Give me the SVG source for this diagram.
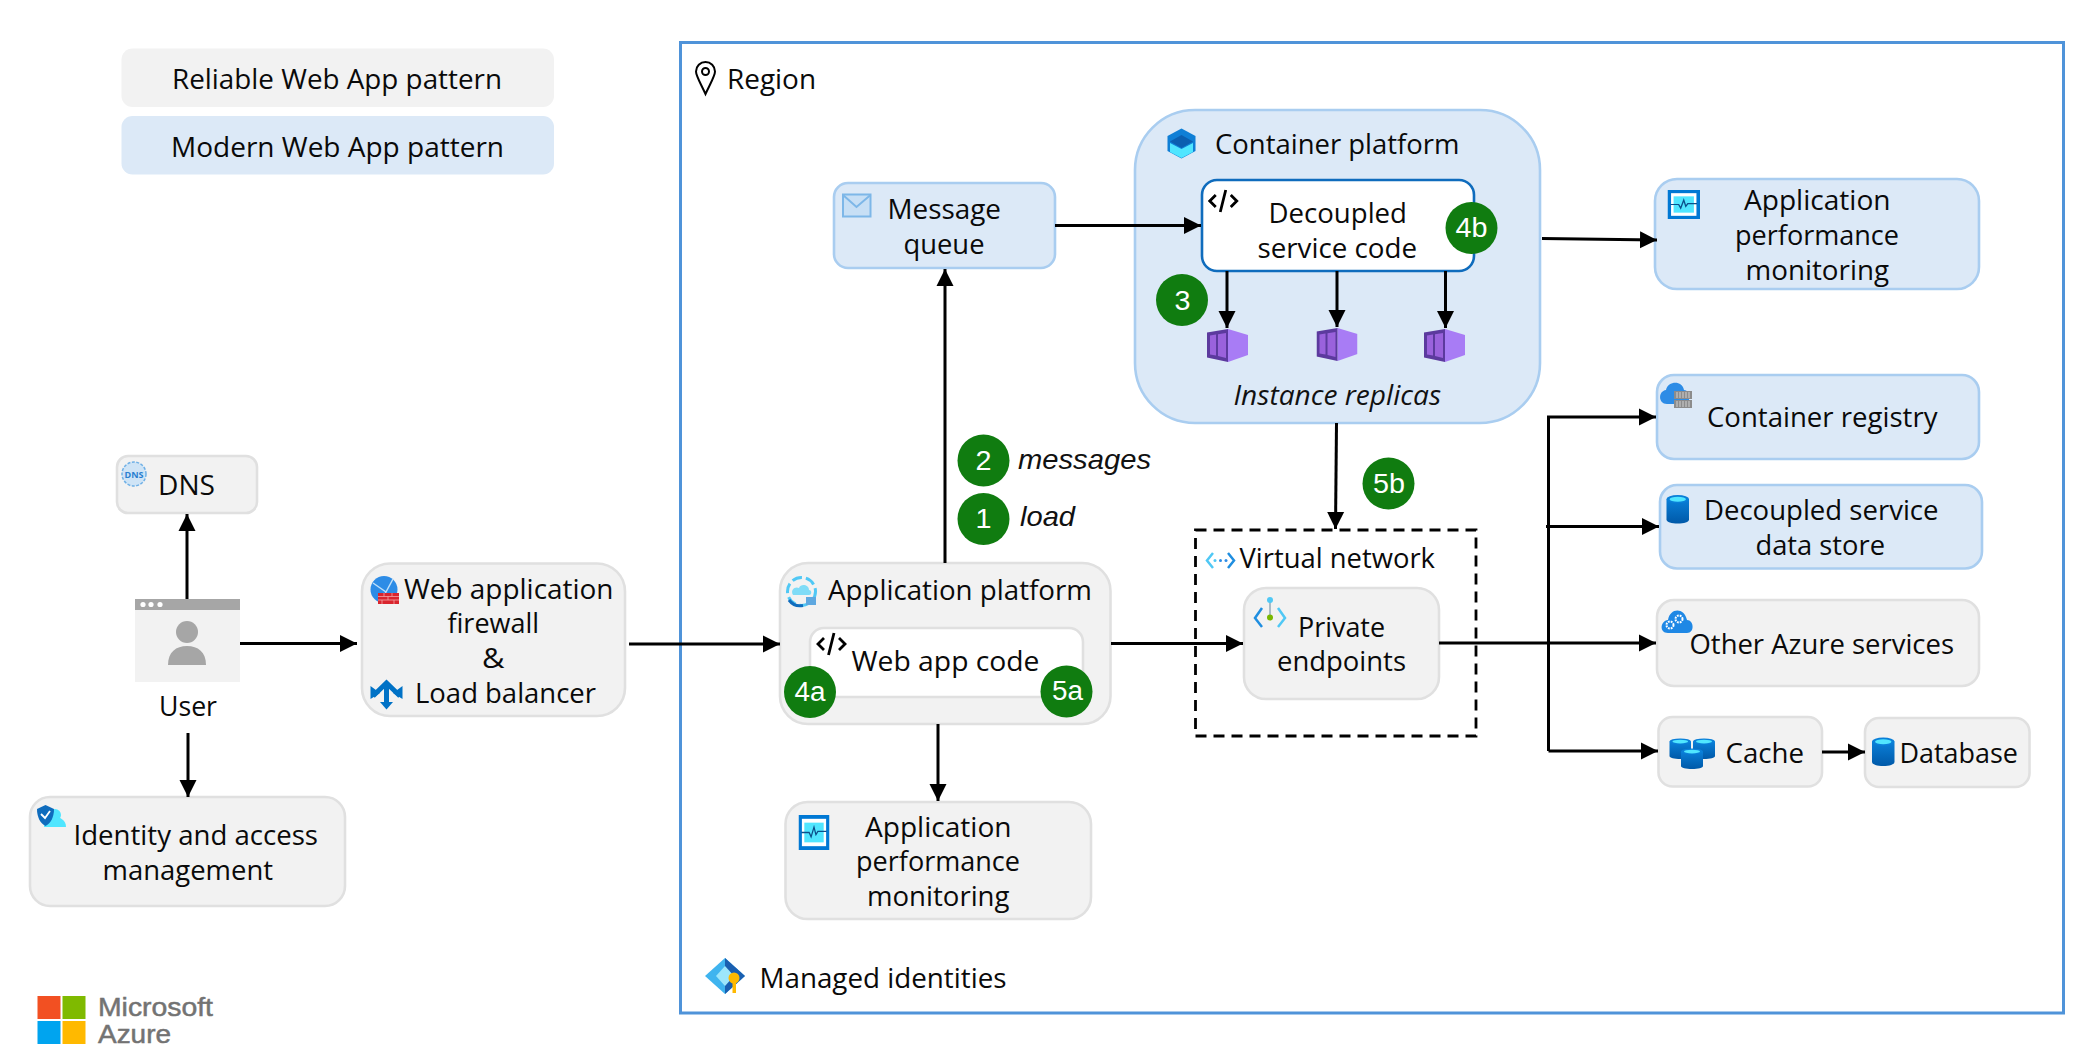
<svg xmlns="http://www.w3.org/2000/svg" width="2098" height="1057" viewBox="0 0 2098 1057">
<style>
text{font-family:"Open Sans","Noto Sans","Liberation Sans",sans-serif;font-size:28px;fill:#0a0a0a}
.g{fill:#f2f2f2;stroke:#e0e0e0;stroke-width:2.6}
.b{fill:#dce9f7;stroke:#a9cdf0;stroke-width:2.6}
.c{fill:none;stroke:#000;stroke-width:3}
.bg{fill:#107c10}
.bt{font-family:"Liberation Sans",Arial,sans-serif;font-size:27px;fill:#fff}
.it{font-family:"Liberation Sans",Arial,sans-serif;font-style:italic;font-size:28px;fill:#111}
.ir{font-family:"Open Sans","Noto Sans",sans-serif;font-style:italic;font-size:28px;fill:#111}
.lg{font-family:"Liberation Sans",Arial,sans-serif;font-size:26px;fill:#737373;stroke:#737373;stroke-width:.5}
.code{fill:none;stroke:#000;stroke-width:2.8}
</style>
<defs>
<marker id="ah" markerUnits="userSpaceOnUse" markerWidth="18" markerHeight="18" refX="17" refY="9" orient="auto"><path d="M0 0.5L17 9L0 17.5Z" fill="#000"/></marker>
<linearGradient id="cy" x1="0" x2="0" y1="0" y2="1"><stop offset="0" stop-color="#0a7fd8"/><stop offset="1" stop-color="#0059a8"/></linearGradient>
<symbol id="cyl" viewBox="0 0 22 28" preserveAspectRatio="none" overflow="visible"><path d="M0 4V24C0 26.500 5 28 11 28S22 26.500 22 24V4Z" fill="url(#cy)"/><ellipse cx="11" cy="4" rx="11" ry="4" fill="#0a7fd8"/><ellipse cx="11" cy="4.200" rx="8" ry="2.500" fill="#50e6ff"/></symbol>
<symbol id="cube" viewBox="0 0 41 33"><path d="M21 0L41 6V26L21 33Z" fill="#a87cf5"/><path d="M0 3.500L21 0V33L0 28.500Z" fill="#5c3a9e"/><path d="M3 6.500L9 5.600V26.500L3 25.500ZM11 5.300L19 4V29L11 27Z" fill="#9a62dc"/></symbol>
<symbol id="codei" viewBox="0 0 31 24"><path class="code" d="M8 6L2 12L8 18M23 6L29 12L23 18M18 1L12.500 23"/></symbol>
<symbol id="apm" viewBox="0 0 32 32" preserveAspectRatio="none"><rect width="32" height="32" fill="#0078d4"/><rect x="3.500" y="3.500" width="25" height="25" fill="#fff"/><rect x="6" y="7" width="20" height="18" fill="#50e6ff"/><path d="M3 16H11L13 20L16 11L18 18L20 15H29" fill="none" stroke="#0b4f8a" stroke-width="1.300"/></symbol>
</defs>

<rect width="2098" height="1057" fill="#fff"/>

<g id="legend-reliable"><rect x="121.500" y="48.500" width="432.500" height="58.500" rx="11" fill="#f2f2f2"/><text x="172" y="89" textLength="330" lengthAdjust="spacingAndGlyphs">Reliable Web App pattern</text></g>
<g id="legend-modern"><rect x="121.500" y="116" width="432.500" height="58.500" rx="11" fill="#dce9f7"/><text x="171" y="157" textLength="333" lengthAdjust="spacingAndGlyphs">Modern Web App pattern</text></g>

<g id="region"><rect x="680.500" y="42.500" width="1383" height="970.500" fill="none" stroke="#4f93d9" stroke-width="3"/>
<path d="M705.500 94C701 84 696 76 696 71.500A9.500 9.500 0 0 1 715 71.500C715 76 710 84 705.500 94Z" fill="none" stroke="#000" stroke-width="2"/><circle cx="705.500" cy="71.500" r="3.500" fill="none" stroke="#000" stroke-width="2"/>
<text x="727" y="89" textLength="89" lengthAdjust="spacingAndGlyphs">Region</text></g>

<g id="managed-identities"><path d="M725 958L745 976L725 994L705 976Z" fill="#3fb4ef"/><path d="M725 958L745 976L725 994Z" fill="#1a5fb0"/><path d="M716 976L725 966L734 976L725 986Z" fill="#9de6fb"/><circle cx="734" cy="978" r="5.500" fill="#ffb900"/><rect x="732.500" y="980" width="3.500" height="13" fill="#ffb900"/>
<text x="759.500" y="988" textLength="247" lengthAdjust="spacingAndGlyphs">Managed identities</text></g>

<g id="dns"><rect class="g" x="117" y="456" width="140" height="57" rx="11"/><circle cx="134" cy="474" r="12" fill="#cfe4f6" stroke="#6fb0e6" stroke-width="1.500" stroke-dasharray="3 1.500"/><text x="124.500" y="477.500" style="font-size:8.500px;font-weight:700;fill:#2a7fd0" textLength="19" lengthAdjust="spacingAndGlyphs">DNS</text><text x="158" y="495" textLength="57" lengthAdjust="spacingAndGlyphs">DNS</text></g>

<g id="user"><rect x="135" y="599" width="105" height="83" fill="#f2f2f2"/><rect x="135" y="599" width="105" height="11" fill="#a6a6a6"/><circle cx="143" cy="604.500" r="2.600" fill="#fff"/><circle cx="151" cy="604.500" r="2.600" fill="#fff"/><circle cx="160" cy="604.500" r="2.600" fill="#fff"/><circle cx="187" cy="632" r="11" fill="#a6a6a6"/><path d="M168 665C168 652 176 646 187 646S206 652 206 665Z" fill="#a6a6a6"/><text x="159" y="716" textLength="58" lengthAdjust="spacingAndGlyphs">User</text></g>

<g id="iam"><rect class="g" x="30" y="797" width="315" height="109" rx="20"/><circle cx="55" cy="815" r="6" fill="#50e6ff"/><path d="M44 827C44 820 50 817 55 817S66 820 66 827Z" fill="#50e6ff"/><path d="M37 809L45.500 805L54 809C54 817 51 823 45.500 826C40 823 37 817 37 809Z" fill="#0f6cbd"/><path d="M41 814L45 818L50 811" fill="none" stroke="#fff" stroke-width="1.800"/>
<text x="73.500" y="845" textLength="244.500" lengthAdjust="spacingAndGlyphs">Identity and access</text><text x="102.500" y="880" textLength="170.500" lengthAdjust="spacingAndGlyphs">management</text></g>

<g id="waf"><rect class="g" x="362" y="563.500" width="263" height="152.500" rx="28"/><circle cx="384" cy="589.500" r="13.500" fill="#2d8ce6"/><path d="M373 583L386 592L393 579M386 592L381 602" fill="none" stroke="#bfe0fa" stroke-width="1.500"/><rect x="378" y="593" width="21" height="11" fill="#d9252e"/><path d="M378 596.500H399M378 600H399M384 593V596.500M392 593V596.500M388 596.500V600M382 600V604M394 600V604" stroke="#f4a3a6" stroke-width="0.800" fill="none"/>
<text x="404" y="598.500" textLength="209.500" lengthAdjust="spacingAndGlyphs">Web application</text><text x="447.500" y="632.500" textLength="91.500" lengthAdjust="spacingAndGlyphs">firewall</text><text x="482" y="667.500" textLength="22.500" lengthAdjust="spacingAndGlyphs">&amp;</text>
<path d="M373 696L386.500 683L400 696M386.500 683V704" fill="none" stroke="#0072c6" stroke-width="5"/><path d="M370.500 686V699L380 693ZM402.500 686V699L393 693Z" fill="#0072c6"/><path d="M380 702H393L386.500 709.500Z" fill="#0072c6"/>
<text x="415" y="702.500" textLength="181" lengthAdjust="spacingAndGlyphs">Load balancer</text></g>

<g id="app-platform"><rect class="g" x="780" y="563" width="330.500" height="161" rx="28"/><circle cx="801.500" cy="591.500" r="14" fill="none" stroke="#50c8f5" stroke-width="3" stroke-dasharray="10 4"/><path d="M789 600A14 14 0 0 0 803 605.500" fill="none" stroke="#0f6cbd" stroke-width="3"/><path d="M793 595C790 590 795 586 799 588C801 583 809 585 809 590C812 590 812 595 809 595Z" fill="#7fdcf7"/><rect x="806" y="597" width="10" height="8" fill="#5ea8e0"/>
<text x="828" y="599.500" textLength="264" lengthAdjust="spacingAndGlyphs">Application platform</text>
<g id="web-app-code"><rect x="810" y="628" width="273" height="69" rx="14" fill="#fff" stroke="#e0e0e0" stroke-width="2.600"/><use href="#codei" x="816" y="632" width="31" height="24"/><text x="851.500" y="671" textLength="188" lengthAdjust="spacingAndGlyphs">Web app code</text></g></g>

<g id="apm-bottom"><rect class="g" x="785.500" y="802" width="305.500" height="117" rx="22"/><use href="#apm" x="798.500" y="815" width="31" height="35"/><text x="865" y="837" textLength="146.500" lengthAdjust="spacingAndGlyphs">Application</text><text x="856" y="871" textLength="164" lengthAdjust="spacingAndGlyphs">performance</text><text x="867" y="905.500" textLength="142.500" lengthAdjust="spacingAndGlyphs">monitoring</text></g>

<g id="message-queue"><rect class="b" x="834" y="183" width="221" height="85" rx="14"/><rect x="843" y="194.500" width="27.500" height="22" fill="#c7dff5" stroke="#7db7e8" stroke-width="2"/><path d="M843 195L856.500 207L870.500 195" fill="none" stroke="#7db7e8" stroke-width="2"/><text x="887.500" y="219" textLength="113.500" lengthAdjust="spacingAndGlyphs">Message</text><text x="903.500" y="253.500" textLength="81" lengthAdjust="spacingAndGlyphs">queue</text></g>

<g id="container-platform"><rect class="b" x="1135" y="110" width="405" height="313" rx="60"/><path d="M1181.500 128.500L1195.500 136V151L1181.500 158.500L1167.500 151V136Z" fill="#0f7fd6"/><path d="M1181.500 135L1193 141.500L1181.500 148L1170 141.500Z" fill="#0b5fb0"/><path d="M1170 143L1181.500 149V158L1170 152ZM1193 143L1181.500 149V158L1193 152Z" fill="#50e6ff"/>
<text x="1215" y="154" textLength="244.500" lengthAdjust="spacingAndGlyphs">Container platform</text>
<g id="decoupled-code"><rect x="1202" y="180" width="272" height="91" rx="15" fill="#fff" stroke="#0f6cbd" stroke-width="2.600"/><use href="#codei" x="1207.500" y="189" width="31.500" height="24"/><text x="1268.500" y="223" textLength="138.500" lengthAdjust="spacingAndGlyphs">Decoupled</text><text x="1257.500" y="257.500" textLength="159.500" lengthAdjust="spacingAndGlyphs">service code</text></g>
<use href="#cube" x="1207" y="329" width="41" height="33"/><use href="#cube" x="1316.500" y="328" width="41" height="33"/><use href="#cube" x="1424" y="329" width="41" height="33"/>
<text class="ir" x="1233.500" y="405" textLength="207.500" lengthAdjust="spacingAndGlyphs">Instance replicas</text></g>

<g id="virtual-network"><rect x="1195.500" y="530" width="280.500" height="206" fill="none" stroke="#000" stroke-width="2.800" stroke-dasharray="11 7"/><path d="M1213 553L1207 560.500L1213 568" fill="none" stroke="#50c8f5" stroke-width="2.500"/><path d="M1228 553L1234 560.500L1228 568" fill="none" stroke="#1f8ee0" stroke-width="2.500"/><circle cx="1215" cy="560.500" r="1.500" fill="#50c8f5"/><circle cx="1220.500" cy="560.500" r="1.500" fill="#2d8ce6"/><circle cx="1226" cy="560.500" r="1.500" fill="#2d8ce6"/>
<text x="1239.500" y="568" textLength="195.500" lengthAdjust="spacingAndGlyphs">Virtual network</text>
<g id="private-endpoints"><rect class="g" x="1244" y="588" width="195" height="111" rx="22"/><path d="M1262 608L1255 618L1262 627" fill="none" stroke="#1f8ee0" stroke-width="2.500"/><path d="M1278 608L1285 618L1278 627" fill="none" stroke="#50c8f5" stroke-width="2.500"/><path d="M1270 600V618" stroke="#8fa8b8" stroke-width="1.500"/><circle cx="1270" cy="600" r="3" fill="#50c8f5"/><circle cx="1270" cy="617.500" r="3" fill="#7ab800"/><text x="1298" y="636.500" textLength="87" lengthAdjust="spacingAndGlyphs">Private</text><text x="1277" y="671" textLength="129" lengthAdjust="spacingAndGlyphs">endpoints</text></g></g>

<g id="apm-top"><rect class="b" x="1655" y="179" width="324" height="110" rx="22"/><use href="#apm" x="1667.500" y="190" width="32.500" height="29"/><text x="1744" y="210" textLength="146.500" lengthAdjust="spacingAndGlyphs">Application</text><text x="1735" y="245" textLength="164" lengthAdjust="spacingAndGlyphs">performance</text><text x="1745.500" y="280" textLength="143.500" lengthAdjust="spacingAndGlyphs">monitoring</text></g>

<g id="container-registry"><rect class="b" x="1657" y="375" width="322" height="84" rx="17"/><path d="M1667 404C1658 404 1658 391 1666 390C1668 381 1682 380 1684 390C1690 390 1692 404 1684 404Z" fill="#2d8ce6"/><path d="M1674 391H1692V399H1674ZM1674 400H1692V408H1674Z" fill="#8c8c8c"/><path d="M1677 392V398M1680 392V398M1683 392V398M1686 392V398M1689 392V398M1677 401V407M1680 401V407M1683 401V407M1686 401V407M1689 401V407" stroke="#d0d0d0" stroke-width="1"/><text x="1707" y="427" textLength="230.500" lengthAdjust="spacingAndGlyphs">Container registry</text></g>

<g id="data-store"><rect class="b" x="1660" y="485" width="322" height="83.500" rx="17"/><use href="#cyl" x="1666.500" y="495" width="22.500" height="28.500"/><text x="1704" y="520" textLength="234.500" lengthAdjust="spacingAndGlyphs">Decoupled service</text><text x="1755.500" y="555" textLength="129.500" lengthAdjust="spacingAndGlyphs">data store</text></g>

<g id="other-azure"><rect class="g" x="1657" y="600" width="322" height="86" rx="17"/><path d="M1668 633C1659 633 1660 621 1668 620C1670 608 1684 607 1687 620C1694 620 1695 633 1687 633Z" fill="#1f88e5"/><circle cx="1670" cy="625" r="3.500" fill="none" stroke="#fff" stroke-width="2" stroke-dasharray="1.800 1"/><circle cx="1679" cy="619" r="3.500" fill="none" stroke="#fff" stroke-width="2" stroke-dasharray="1.800 1"/><text x="1689.500" y="654" textLength="264.500" lengthAdjust="spacingAndGlyphs">Other Azure services</text></g>

<g id="cache"><rect class="g" x="1658.500" y="717" width="163.500" height="69.500" rx="14"/><use href="#cyl" x="1669.500" y="738.500" width="21.500" height="20.500"/><use href="#cyl" x="1693" y="738.500" width="22" height="20.500"/><use href="#cyl" x="1681" y="748.500" width="22" height="20.500"/><text x="1725.500" y="762.500" textLength="78.500" lengthAdjust="spacingAndGlyphs">Cache</text></g>

<g id="database"><rect class="g" x="1865" y="718" width="164.500" height="69" rx="14"/><use href="#cyl" x="1872" y="737.500" width="22.500" height="28.500"/><text x="1899.500" y="762.500" textLength="118.500" lengthAdjust="spacingAndGlyphs">Database</text></g>

<g id="connectors">
<path class="c" d="M187 599V514" marker-end="url(#ah)"/>
<path class="c" d="M188 733V797" marker-end="url(#ah)"/>
<path class="c" d="M240 643.500H357" marker-end="url(#ah)"/>
<path class="c" d="M629 644H780" marker-end="url(#ah)"/>
<path class="c" d="M945 563V269" marker-end="url(#ah)"/>
<path class="c" d="M938 724V801" marker-end="url(#ah)"/>
<path class="c" d="M1111 643.500H1243" marker-end="url(#ah)"/>
<path class="c" d="M1055 225.500H1201" marker-end="url(#ah)"/>
<path class="c" d="M1227 271V328" marker-end="url(#ah)"/>
<path class="c" d="M1337 271V327" marker-end="url(#ah)"/>
<path class="c" d="M1445.500 271V328" marker-end="url(#ah)"/>
<path class="c" d="M1542 238.500L1657 240" marker-end="url(#ah)"/>
<path class="c" d="M1336.500 423L1335.500 529" marker-end="url(#ah)"/>
<path class="c" d="M1439 643H1656" marker-end="url(#ah)"/>
<path class="c" d="M1548.500 751V417H1656" marker-end="url(#ah)"/>
<path class="c" d="M1546 526.500H1659" marker-end="url(#ah)"/>
<path class="c" d="M1548.500 751H1658" marker-end="url(#ah)"/>
<path class="c" d="M1822 752H1865" marker-end="url(#ah)"/>
</g>

<g id="step-badges">
<circle class="bg" cx="810" cy="692" r="26"/><text class="bt" x="794.500" y="701" textLength="31" lengthAdjust="spacingAndGlyphs">4a</text>
<circle class="bg" cx="1066.500" cy="691.500" r="26"/><text class="bt" x="1052" y="700" textLength="31" lengthAdjust="spacingAndGlyphs">5a</text>
<circle class="bg" cx="1471.500" cy="228" r="26"/><text class="bt" x="1455.500" y="237" textLength="32" lengthAdjust="spacingAndGlyphs">4b</text>
<circle class="bg" cx="1182" cy="300" r="26"/><text class="bt" x="1174.500" y="309.500" textLength="16" lengthAdjust="spacingAndGlyphs">3</text>
<circle class="bg" cx="983.500" cy="460.500" r="26"/><text class="bt" x="975.500" y="469.500" textLength="16" lengthAdjust="spacingAndGlyphs">2</text>
<circle class="bg" cx="983.500" cy="519" r="26"/><text class="bt" x="975.500" y="528" textLength="16" lengthAdjust="spacingAndGlyphs">1</text>
<circle class="bg" cx="1388.500" cy="483.500" r="26"/><text class="bt" x="1373" y="492.500" textLength="32" lengthAdjust="spacingAndGlyphs">5b</text>
<text class="it" x="1018" y="468.500" textLength="133" lengthAdjust="spacingAndGlyphs">messages</text>
<text class="it" x="1020" y="526" textLength="55" lengthAdjust="spacingAndGlyphs">load</text>
</g>

<g id="azure-logo"><rect x="37.500" y="996" width="23" height="23" fill="#f25022"/><rect x="62.500" y="996" width="23" height="23" fill="#7fba00"/><rect x="37.500" y="1021" width="23" height="23" fill="#00a4ef"/><rect x="62.500" y="1021" width="23" height="23" fill="#ffb900"/><text class="lg" x="98" y="1016" textLength="115" lengthAdjust="spacingAndGlyphs">Microsoft</text><text class="lg" x="98" y="1043" textLength="73" lengthAdjust="spacingAndGlyphs">Azure</text></g>
</svg>
